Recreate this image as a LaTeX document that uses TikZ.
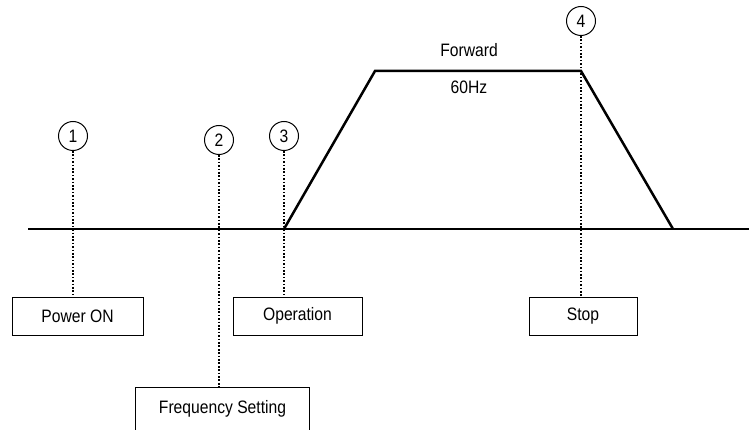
\documentclass[tikz,border=0pt]{standalone}
\usepackage{fontspec}
\setmainfont{Liberation Sans}[FakeStretch=0.87]
\begin{document}
\begin{tikzpicture}[x=1pt,y=-1pt,
  every node/.style={font=\fontsize{18}{20}\selectfont, inner sep=0pt},
  lblbox/.style={draw, line width=1pt, minimum height=38pt},
  numcirc/.style={draw, circle, line width=1pt, minimum size=29pt},
  guide/.style={line width=1.6pt, dash pattern=on 1.7pt off 1.7pt},
  curve/.style={line width=2.5pt, line join=miter},
  axis/.style={line width=2pt}]
\useasboundingbox (0,0) rectangle (749,430);
% baseline
\coordinate (b0) at (28,229);
\coordinate (b1) at (749,229);
\draw[axis] (b0) -- (b1);
% speed profile
\coordinate (p0) at (284,229);
\coordinate (p1) at (375,71);
\coordinate (p2) at (581,71);
\coordinate (p3) at (673,229);
\draw[curve] (p0) -- (p1) -- (p2) -- (p3);
\node (fw) at (469,50) {Forward};
\node (hz) at (469,87) {60Hz};
% circles
\node[numcirc] (c1) at (73,136) {1};
\node[numcirc] (c2) at (219,140) {2};
\node[numcirc] (c3) at (284,136) {3};
\node[numcirc] (c4) at (581,21) {4};
% boxes
\node[lblbox, minimum width=131pt] (pw) at (77.5,316) {Power ON};
\node[lblbox, minimum width=129pt] (op) at (297.5,316) {Operation};
\node[lblbox, minimum width=108pt] (st) at (583,316) {Stop};
\node[minimum width=173pt, minimum height=42pt] (fs) at (222.5,409) {Frequency Setting};
\draw[line width=1pt] (fs.south west) -- (fs.north west) -- (fs.north east) -- (fs.south east);
% dotted guides
\draw[guide] (c1.south) -- (c1.south |- pw.north);
\draw[guide] (c2.south) -- (c2.south |- fs.north);
\draw[guide] (c3.south) -- (c3.south |- op.north);
\draw[guide] (c4.south) -- (c4.south |- st.north);
\end{tikzpicture}
\end{document}
